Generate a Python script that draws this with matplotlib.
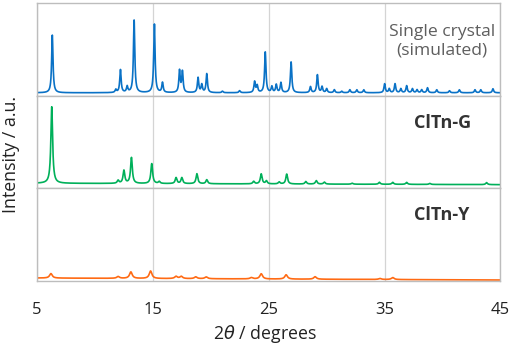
import numpy as np
import matplotlib.pyplot as plt

plt.rcParams['font.family'] = ['Open Sans', 'DejaVu Sans']

# peak positions (2theta) and heights (arb. units)
sim_pos = [6.32, 11.8, 12.2, 12.78, 13.38, 15.13, 15.83, 17.3, 17.55, 18.9, 19.22, 19.65,
           21.0, 22.48, 23.78, 24.0, 24.7, 25.27, 25.65, 26.05, 26.93, 28.6, 29.2, 29.6,
           30.0, 30.66, 31.3, 32.0, 32.6, 33.2, 35.0, 35.4, 35.9, 36.4, 36.9, 37.4, 37.8,
           38.2, 38.7, 39.5, 40.6, 41.45, 42.8, 43.3, 44.35]
sim_h = [58, 3, 23, 6, 73, 69, 10, 22, 21, 15, 8, 19,
         1.5, 2, 11, 7, 41, 6, 8, 10, 31, 6, 18, 6,
         4, 3, 1.5, 3, 3, 3, 9, 4, 9, 4, 7, 4, 3,
         3, 5, 3, 2, 3, 3, 3, 4]

g_pos = [6.27, 12.0, 12.5, 13.15, 14.9, 15.55, 17.0, 17.5, 18.8, 19.65, 23.7, 24.35,
         24.8, 25.9, 26.55, 28.2, 29.1, 29.8, 32.2, 34.55, 35.7, 36.9, 38.9, 43.8]
g_h = [77, 3, 13, 26, 20, 2, 6, 6, 10, 4, 2.5, 10,
       3, 2, 10, 2.5, 3.5, 2, 1, 2, 2, 2, 1, 2]
g_base = [2.0, 0.6]

y_pos = [6.2, 12.0, 13.1, 14.8, 17.0, 17.45, 18.7, 19.6, 23.5, 24.35, 26.5, 29.0,
         34.6, 35.7]
y_h = [4.5, 1.8, 6.5, 7.5, 2.2, 2.2, 1.8, 1.8, 1.3, 5.2, 4.3, 2.5, 1, 2]
y_base = [-0.3, -2.3]

labels = ['Single crystal\n(simulated)', 'ClTn-G', 'ClTn-Y']
colors = ['#0A72C6', '#00B05A', '#FF6A13']
widths = [0.07, 0.09, 0.14]


def pattern(x, pos, h, w, base=(0, 0)):
    y = np.interp(x, [5, 45], base)
    for p, a in zip(pos, h):
        y = y + a / (1 + ((x - p) / w) ** 2)
    return y


x = np.linspace(5, 45, 4000)
series = [(sim_pos, sim_h, (0, 0)), (g_pos, g_h, g_base), (y_pos, y_h, y_base)]

fig = plt.figure(figsize=(5.12, 3.48), dpi=100)
gs = fig.add_gridspec(3, 1, left=0.0723, right=0.9775, top=0.9905, bottom=0.1934, hspace=0)

for i, (pos, h, base) in enumerate(series):
    ax = fig.add_subplot(gs[i])
    ax.plot(x, pattern(x, pos, h, widths[i], base), color=colors[i], lw=1.2)
    ax.set_xlim(5, 45)
    ax.set_ylim(-3, 90)
    ax.set_yticks([])
    ax.set_xticks([5, 15, 25, 35, 45])
    ax.grid(axis='x', color='#D4D4D4', lw=0.9)
    ax.tick_params(length=0, labelsize=12, colors='#222222', pad=15)
    for s in ax.spines.values():
        s.set_color('#BDBDBD')
        s.set_linewidth(1.0)
    if i < 2:
        ax.tick_params(labelbottom=False)
    if i == 0:
        ax.text(0.874, 0.59, labels[0], transform=ax.transAxes, ha='center', va='center',
                multialignment='center', fontsize=12.6, color='#5E5E5E', linespacing=1.2)
    else:
        ax.text(0.874, 0.71, labels[i], transform=ax.transAxes, ha='center', va='center',
                fontsize=13, fontweight='bold', color='#333333')

fig.text(0.517, 0.04, r'2$\it{\theta}$ / degrees', ha='center', va='center',
         fontsize=12.8, color='#222222')
fig.text(0.022, 0.555, 'Intensity / a.u.', rotation=90, ha='center', va='center',
         fontsize=12.8, color='#222222')

fig.savefig('out.png', dpi=100)
